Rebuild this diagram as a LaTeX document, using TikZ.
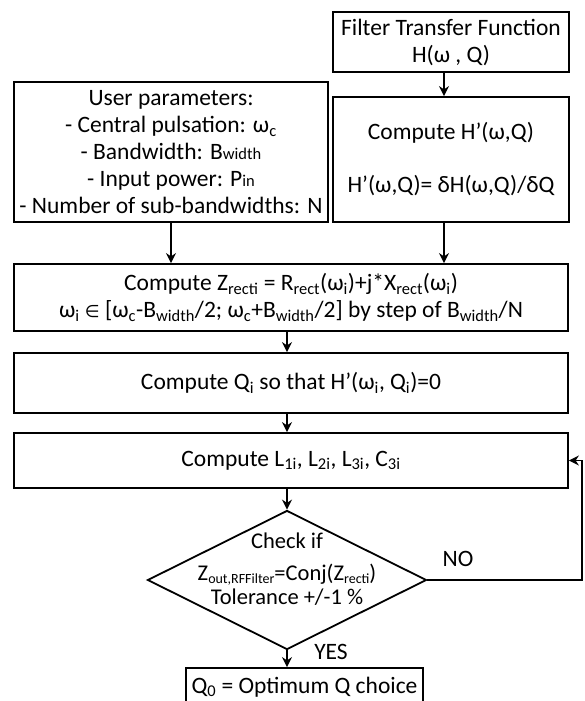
\documentclass[tikz,border=0pt]{standalone}
\usepackage{fontspec}
\setmainfont{Carlito}
\newfontfamily\djv{DejaVu Sans}
\usetikzlibrary{arrows.meta,shapes.geometric}
\newcommand\sbs[1]{\textsubscript{#1}}
\newcommand\smt[1]{{\fontsize{16.5}{16.5}\selectfont #1}}
\newcommand\tsb[1]{\raisebox{-3pt}{\fontsize{14}{14}\selectfont #1}}
\begin{document}
\begin{tikzpicture}[x=1pt,y=-1pt,
  every node/.style={font=\fontsize{23.5}{27}\selectfont},
  box/.style={draw,line width=1.8pt,inner sep=0pt,align=center},
  arr/.style={line width=1.8pt,-{Stealth[length=10pt,width=10pt]}},
  lbl/.style={inner sep=0pt}]
\useasboundingbox (0,0) rectangle (584,701);
\clip (0,0) rectangle (584,701);
\fill[white] (0,0) rectangle (584,701);
\coordinate (ax) at (444,0);
\coordinate (mx) at (287,0);
\coordinate (fb) at (582,0);
\node[box,minimum width=236,minimum height=60] (filt) at (451,42)
  {Filter Transfer Function\\H(ω , Q)};
\node[box,minimum width=314,minimum height=140] (user) at (171,152)
  {User parameters:\\- Central pulsation: ω\sbs{c}\\- Bandwidth: B\smt{width}\\- Input power: P\smt{in}\\- Number of sub-bandwidths: N};
\node[box,minimum width=236,minimum height=125] (hp) at (451,159.5)
  {Compute H’(ω,Q)\\[26pt]H’(ω,Q)= δH(ω,Q)/δQ};
\node[box,minimum width=554,minimum height=67] (z) at (291,297.5)
  {Compute Z\sbs{recti} = R\sbs{rect}(ω\sbs{i})+j*X\sbs{rect}(ω\sbs{i})\\ω\sbs{i} {\djv\fontsize{17}{17}\selectfont ∈} [ω\sbs{c}-B\sbs{width}/2; ω\sbs{c}+B\sbs{width}/2] by step of B\sbs{width}/N};
\node[box,minimum width=554,minimum height=60] (q) at (291,383)
  {Compute Q\sbs{i} so that H’(ω\sbs{i}, Q\sbs{i})=0};
\node[box,minimum width=554,minimum height=55] (l) at (291,460.5)
  {Compute L\sbs{1i}, L\sbs{2i}, L\sbs{3i}, C\sbs{3i}};
\node[draw,line width=1.8pt,diamond,inner sep=0pt,minimum width=279,minimum height=139] (dia) at (287,580) {};
\node[lbl,align=center,font=\fontsize{22.5}{24}\selectfont] (diat) at (287,569)
  {Check if\\[8pt]Z\tsb{out,RFFilter}=Conj(Z\tsb{recti})\\Tolerance +/-1 \%};
\node[box,minimum width=237,minimum height=38] (q0) at (304.5,687)
  {Q\sbs{0} = Optimum Q choice};
\node[lbl] (no) at (458,559) {NO};
\node[lbl] (yes) at (331,652) {YES};
\draw[arr] (filt.south -| ax) -- (hp.north -| ax);
\draw[arr] (user.south) -- (z.north -| user.south);
\draw[arr] (hp.south -| ax) -- (z.north -| ax);
\draw[arr] (z.south -| mx) -- (q.north -| mx);
\draw[arr] (q.south -| mx) -- (l.north -| mx);
\draw[arr] (l.south -| mx) -- (dia.north);
\draw[arr] (dia.south) -- (q0.north -| dia.south);
\draw[arr] (dia.east) -- (dia.east -| fb) |- (l.east);
\end{tikzpicture}
\end{document}
